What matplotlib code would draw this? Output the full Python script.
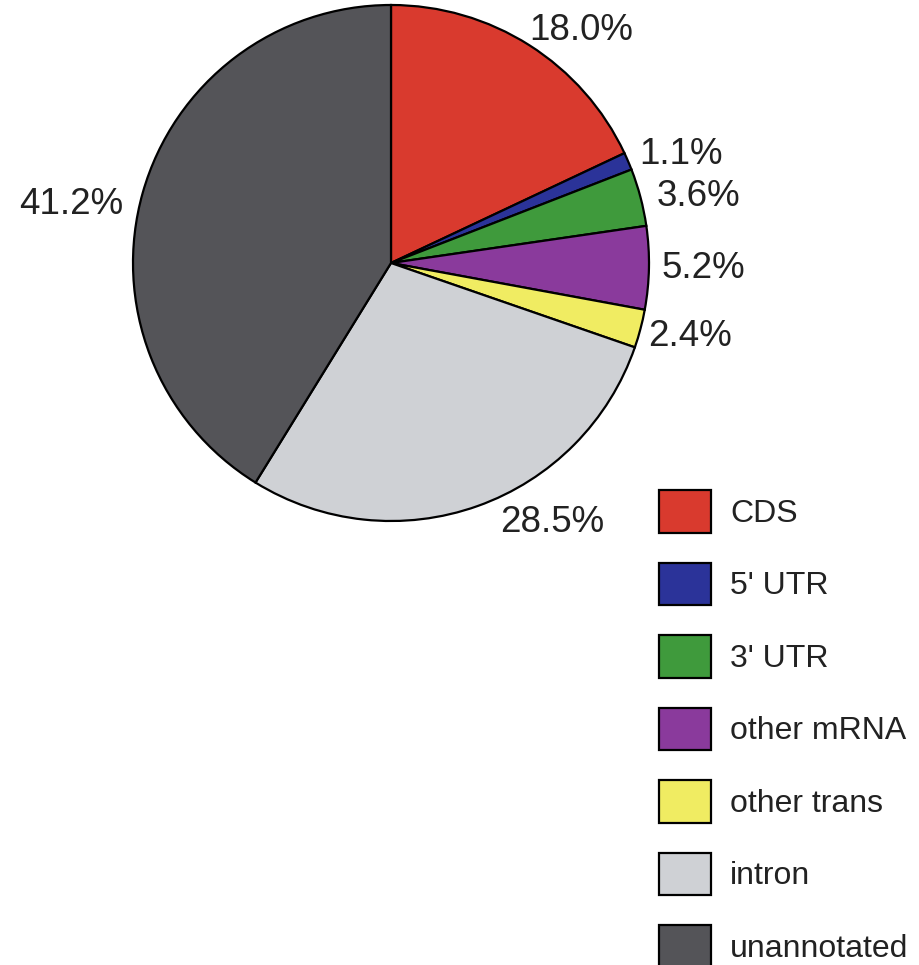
import matplotlib
matplotlib.use("Agg")
import matplotlib.pyplot as plt

# data
categories = ["CDS", "5' UTR", "3' UTR", "other mRNA", "other trans", "intron", "unannotated"]
percents = [18.0, 1.1, 3.6, 5.2, 2.4, 28.5, 41.2]
colors = ["#d93a2e", "#2b3399", "#3f9a3c", "#8a3a9c", "#f0ec62", "#cfd1d5", "#545458"]

plt.rcParams['font.family'] = ['Liberation Sans', 'DejaVu Sans']

W, H = 920, 965
fig = plt.figure(figsize=(W / 100, H / 100), dpi=100)
ax = fig.add_axes([0, 0, 1, 1])

cx, cy, r = 391, H - 263, 258
wedges, _ = ax.pie(percents, colors=colors, startangle=90, counterclock=False,
                   center=(cx, cy), radius=r, frame=True,
                   wedgeprops=dict(edgecolor="black", linewidth=1.6))
ax.set_xlim(0, W)
ax.set_ylim(0, H)
ax.axis("off")

# percentage labels placed around the pie (pixel positions from the reference)
label_pos = [(581, 30), (681, 155), (698, 197), (703, 268), (690, 336), (552, 522), (71, 205)]
for p, (x, y) in zip(percents, label_pos):
    ax.text(x, H - y, "%.1f%%" % p, fontsize=26.5, ha="center", va="center", color="#222222")

fig.legend(wedges, categories, loc="upper left", bbox_to_anchor=(659 / W, 1 - 490 / H),
           frameon=False, fontsize=23, handlelength=1.63, handleheight=1.67,
           labelspacing=0.94, handletextpad=0.6, borderpad=0, borderaxespad=0,
           labelcolor="#222222")

fig.savefig("out.png", dpi=100)
